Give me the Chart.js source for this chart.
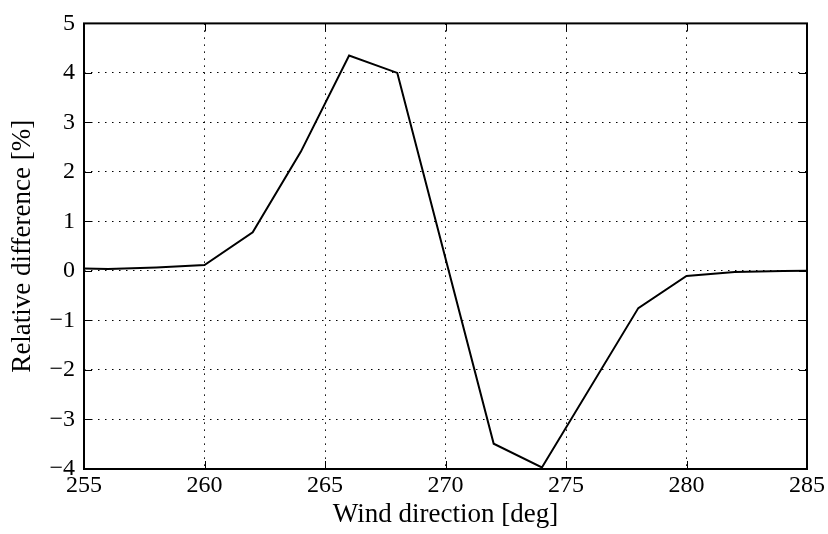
<!DOCTYPE html>
<html>
<head>
<meta charset="utf-8">
<script src="https://cdn.jsdelivr.net/npm/chart.js@4/dist/chart.umd.min.js"></script>
<style>
  html, body { margin: 0; padding: 0; background: #fff; }
  #wrap { width: 828px; height: 534px; }
</style>
</head>
<body>
<div id="wrap"><canvas id="c" width="828" height="534"></canvas></div>
<script>
// wind direction [deg] and relative difference [%]
const windDir = [254, 256, 258, 260, 262, 264, 266, 268, 272, 274, 278, 280, 282, 284, 286]
const relDiff = [0.06, 0.04, 0.07, 0.12, 0.78, 2.41, 4.35, 4.0, -3.49, -3.97, -0.75, -0.10, -0.02, 0.0, 0.01]

const xTicks = [255, 260, 265, 270, 275, 280, 285]
const yTicks = [-4, -3, -2, -1, 0, 1, 2, 3, 4, 5]

const serif = "'Liberation Serif', 'DejaVu Serif', serif"

let points = []
for (let i = 0; i < windDir.length; i++) {
    points.push({x: windDir[i], y: relDiff[i]})
}

const minus = v => String(v).replace('-', '\u2212')

// black frame + inward ticks on all four sides (matplotlib classic look)
const frame = {
    id: 'frame',
    afterDraw(chart) {
        const {ctx, chartArea: a, scales} = chart
        const len = 8
        ctx.save()
        ctx.strokeStyle = '#000'
        ctx.lineWidth = 1
        ctx.beginPath()
        xTicks.forEach(v => {
            const px = Math.round(scales.x.getPixelForValue(v)) + 0.5
            ctx.moveTo(px, a.bottom); ctx.lineTo(px, a.bottom - len)
            ctx.moveTo(px, a.top); ctx.lineTo(px, a.top + len)
        })
        yTicks.forEach(v => {
            const py = Math.round(scales.y.getPixelForValue(v)) + 0.5
            ctx.moveTo(a.left, py); ctx.lineTo(a.left + len, py)
            ctx.moveTo(a.right, py); ctx.lineTo(a.right - len, py)
        })
        ctx.stroke()
        ctx.lineWidth = 2
        ctx.strokeRect(a.left, a.top, a.right - a.left, a.bottom - a.top)
        ctx.restore()
    }
}

new Chart(document.getElementById('c'), {
    type: 'line',
    data: {
        datasets: [{
            data: points,
            borderColor: '#000',
            borderWidth: 2,
            pointRadius: 0,
            fill: false,
            tension: 0
        }]
    },
    options: {
        responsive: false,
        animation: false,
        events: [],
        layout: {padding: {top: 19, right: 21, left: 0, bottom: 0}},
        plugins: {legend: {display: false}, tooltip: {enabled: false}},
        scales: {
            x: {
                type: 'linear',
                min: 255,
                max: 285,
                afterFit: s => { s.height = 65 },
                afterBuildTicks: s => { s.ticks = xTicks.map(v => ({value: v})) },
                grid: {color: '#000', lineWidth: 1, drawTicks: false},
                border: {display: false, dash: [1.5, 5.5]},
                ticks: {
                    color: '#000',
                    padding: 2,
                    maxRotation: 0,
                    font: {family: serif, size: 24},
                    callback: v => minus(v)
                },
                title: {
                    display: true,
                    text: 'Wind direction [deg]',
                    color: '#000',
                    font: {family: serif, size: 27},
                    padding: {top: 0, bottom: 3}
                }
            },
            y: {
                min: -4,
                max: 5,
                afterFit: s => { s.width = 84 },
                afterBuildTicks: s => { s.ticks = yTicks.map(v => ({value: v})) },
                grid: {color: '#000', lineWidth: 1, drawTicks: false},
                border: {display: false, dash: [1.5, 5.5]},
                ticks: {
                    color: '#000',
                    padding: 9,
                    font: {family: serif, size: 24},
                    callback: v => minus(v)
                },
                title: {
                    display: true,
                    text: 'Relative difference [%]',
                    color: '#000',
                    font: {family: serif, size: 27},
                    padding: {top: 7, bottom: 0}
                }
            }
        }
    },
    plugins: [frame]
})
</script>
</body>
</html>
